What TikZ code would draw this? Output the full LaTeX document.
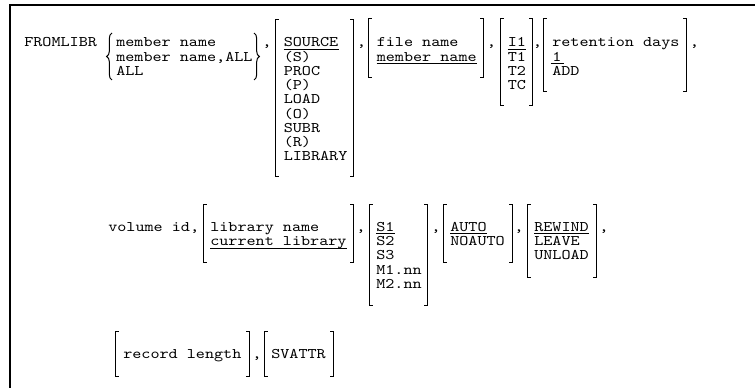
\documentclass[tikz,border=0pt]{standalone}
\usepackage{fontspec}
\usetikzlibrary{decorations.pathreplacing}
\newfontfamily\cmono{lmmono10-regular}[Extension=.otf, FakeStretch=1.18]
\newcommand\monofnt{\cmono\fontsize{11}{12}\selectfont}
\begin{document}
\begin{tikzpicture}[x=0.75pt,y=-0.75pt,
  txt/.style={font=\monofnt, anchor=base west, inner sep=0pt, text depth=0pt},
  cma/.style={font=\monofnt, anchor=base, inner sep=0pt, text depth=0pt},
  brk/.style={line width=0.75pt, line cap=rect},
  brc/.style={line width=0.75pt, decorate, decoration={brace, amplitude=4pt}},
  ul/.style={line width=0.7pt},
  frame/.style={line width=1.2pt}]
\useasboundingbox (0,0) rectangle (755,388);
\draw[frame] (10,388) -- (10,5) -- (755,5);

% ---------- row 1 ----------
\node[txt] (fromlibr) at (24,47) {FROMLIBR};
\node[txt] (mnA) at (116,47) {member name};
\node[txt] (mnB) at (116,61.25) {member name,ALL};
\node[txt] (allA) at (116,75.5) {ALL};
\draw[brc] (112,80) -- (112,33);
\draw[brc] (254,33) -- (254,80);
\node[cma] (c1) at (267,47) {,};

\draw[brk] (278,20) -- (275,20) -- (275,177) -- (278,177);
\node[txt] (source) at (283.5,47) {SOURCE};
\draw[ul] ([yshift=-1.9pt]source.base west) -- ([yshift=-1.9pt]source.base east);
\node[txt] (s) at (283.5,61.25) {(S)};
\node[txt] (proc) at (283.5,75.5) {PROC};
\node[txt] (p) at (283.5,89.75) {(P)};
\node[txt] (load) at (283.5,104) {LOAD};
\node[txt] (o) at (283.5,118.25) {(O)};
\node[txt] (subr) at (283.5,132.5) {SUBR};
\node[txt] (r) at (283.5,146.75) {(R)};
\node[txt] (library) at (283.5,161) {LIBRARY};
\draw[brk] (350,20) -- (353,20) -- (353,177) -- (350,177);
\node[cma] (c2) at (361.5,47) {,};

\draw[brk] (371,19) -- (368,19) -- (368,78) -- (371,78);
\node[txt] (filename) at (376.5,47) {file name};
\node[txt] (membername) at (376.5,61.25) {member name};
\draw[ul] ([yshift=-1.9pt]membername.base west) -- ([yshift=-1.9pt]membername.base east);
\draw[brk] (480,19) -- (483,19) -- (483,78) -- (480,78);
\node[cma] (c3) at (491.5,47) {,};

\draw[brk] (503,19) -- (500,19) -- (500,106) -- (503,106);
\node[txt] (ione) at (507.5,47) {I1};
\draw[ul] ([yshift=-1.9pt]ione.base west) -- ([yshift=-1.9pt]ione.base east);
\node[txt] (tone) at (507.5,61.25) {T1};
\node[txt] (ttwo) at (507.5,75.5) {T2};
\node[txt] (tc) at (507.5,89.75) {TC};
\draw[brk] (529,19) -- (532,19) -- (532,106) -- (529,106);
\node[cma] (c4) at (537.5,47) {,};

\draw[brk] (546.5,19) -- (543.5,19) -- (543.5,92) -- (546.5,92);
\node[txt] (retention) at (552,47) {retention days};
\node[txt] (one) at (552,61.25) {1};
\draw[ul] ([xshift=-1pt,yshift=-1.9pt]one.base west) -- ([xshift=2pt,yshift=-1.9pt]one.base east);
\node[txt] (add) at (552,75.5) {ADD};
\draw[brk] (683,19) -- (686,19) -- (686,92) -- (683,92);
\node[cma] (c5) at (694.5,47) {,};

% ---------- row 2 ----------
\node[txt] (volid) at (108,231.3) {volume id,};
\draw[brk] (206,204) -- (203,204) -- (203,262) -- (206,262);
\node[txt] (libname) at (210,231.3) {library name};
\node[txt] (curlib) at (210,245.55) {current library};
\draw[ul] ([yshift=-1.9pt]curlib.base west) -- ([yshift=-1.9pt]curlib.base east);
\draw[brk] (350,204) -- (353,204) -- (353,262) -- (350,262);
\node[cma] (c6) at (361,231.3) {,};

\draw[brk] (372,204) -- (369,204) -- (369,305) -- (372,305);
\node[txt] (sone) at (376,231.3) {S1};
\draw[ul] ([yshift=-1.9pt]sone.base west) -- ([yshift=-1.9pt]sone.base east);
\node[txt] (stwo) at (376,245.55) {S2};
\node[txt] (sthree) at (376,259.8) {S3};
\node[txt] (mone) at (376,274.05) {M1.nn};
\node[txt] (mtwo) at (376,288.3) {M2.nn};
\draw[brk] (424,204) -- (427,204) -- (427,305) -- (424,305);
\node[cma] (c7) at (436,231.3) {,};

\draw[brk] (446,204) -- (443,204) -- (443,262) -- (446,262);
\node[txt] (auto) at (450,231.3) {AUTO};
\draw[ul] ([yshift=-1.9pt]auto.base west) -- ([yshift=-1.9pt]auto.base east);
\node[txt] (noauto) at (450,245.55) {NOAUTO};
\draw[brk] (509,204) -- (512,204) -- (512,262) -- (509,262);
\node[cma] (c8) at (519,231.3) {,};

\draw[brk] (530,204) -- (527,204) -- (527,277) -- (530,277);
\node[txt] (rewind) at (534,231.3) {REWIND};
\draw[ul] ([yshift=-1.9pt]rewind.base west) -- ([yshift=-1.9pt]rewind.base east);
\node[txt] (leave) at (534,245.55) {LEAVE};
\node[txt] (unload) at (534,259.8) {UNLOAD};
\draw[brk] (593,204) -- (596,204) -- (596,277) -- (593,277);
\node[cma] (c9) at (604,231.3) {,};

% ---------- row 3 ----------
\draw[brk] (118,331) -- (115,331) -- (115,376) -- (118,376);
\node[txt] (reclen) at (123,358.3) {record length};
\draw[brk] (246,331) -- (249,331) -- (249,376) -- (246,376);
\node[cma] (c10) at (257,358.3) {,};
\draw[brk] (267,331) -- (264,331) -- (264,376) -- (267,376);
\node[txt] (svattr) at (271,358.3) {SVATTR};
\draw[brk] (330,331) -- (333,331) -- (333,376) -- (330,376);
\end{tikzpicture}
\end{document}
